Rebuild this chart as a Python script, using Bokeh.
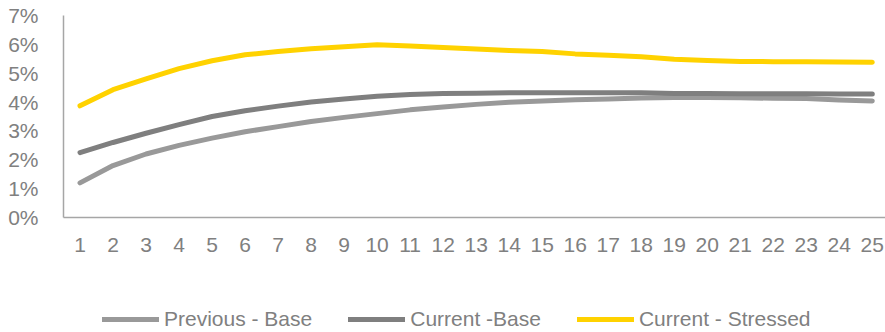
from bokeh.plotting import figure
from bokeh.layouts import column
from bokeh.models import Range1d, FixedTicker, PrintfTickFormatter, Legend, LegendItem
from bokeh.embed import file_html
from bokeh.resources import INLINE

years = list(range(1, 26))
previous_base = [1.2, 1.8, 2.2, 2.5, 2.75, 2.97, 3.15, 3.33, 3.47, 3.6, 3.73, 3.83, 3.92, 3.99,
                 4.04, 4.08, 4.11, 4.14, 4.16, 4.16, 4.15, 4.13, 4.12, 4.07, 4.04]
current_base = [2.25, 2.6, 2.92, 3.22, 3.5, 3.7, 3.86, 4.0, 4.11, 4.2, 4.26, 4.3, 4.31, 4.32,
                4.32, 4.32, 4.32, 4.32, 4.3, 4.3, 4.29, 4.29, 4.29, 4.28, 4.28]
current_stressed = [3.87, 4.43, 4.8, 5.16, 5.43, 5.64, 5.75, 5.85, 5.92, 5.99, 5.94, 5.89, 5.84,
                    5.79, 5.75, 5.67, 5.62, 5.57, 5.48, 5.44, 5.41, 5.40, 5.40, 5.39, 5.38]
series_names = ["Previous - Base", "Current -Base", "Current - Stressed"]
y_ticks = [0, 1, 2, 3, 4, 5, 6, 7]

FONT = "Liberation Sans"
FS = "21px"
TXT = "#808080"
colors = ["#999999", "#7F7F7F", "#FFD200"]
series = [previous_base, current_base, current_stressed]

p = figure(width=885, height=270, output_backend="svg", toolbar_location=None,
           x_range=Range1d(0.5, 25.4), y_range=Range1d(0, 7),
           min_border_left=63, min_border_right=0, min_border_top=15, min_border_bottom=53)
p.outline_line_color = None
p.grid.visible = False
p.border_fill_color = "#ffffff"
p.background_fill_color = "#ffffff"

for data, c in zip(series, colors):
    p.line(years, data, line_color=c, line_width=5, line_cap="round", line_join="round")

for ax in (p.xaxis[0], p.yaxis[0]):
    ax.axis_line_color = "#A6A6A6"
    ax.axis_line_width = 1.5
    ax.major_tick_line_color = None
    ax.minor_tick_line_color = None
    ax.major_label_text_font = FONT
    ax.major_label_text_font_size = FS
    ax.major_label_text_color = TXT

p.xaxis.ticker = FixedTicker(ticks=years)
p.xaxis.major_label_standoff = 14
p.yaxis.ticker = FixedTicker(ticks=y_ticks)
p.yaxis.formatter = PrintfTickFormatter(format="%d%%")
p.yaxis.major_label_standoff = 19

# legend strip below the chart (lines drawn off-view, only their legend glyphs show)
lg = figure(width=885, height=62, output_backend="svg", toolbar_location=None,
            x_range=Range1d(0, 1), y_range=Range1d(100, 101),
            x_axis_location=None, y_axis_location=None,
            min_border_left=0, min_border_right=0, min_border_top=0, min_border_bottom=0)
lg.outline_line_color = None
lg.grid.visible = False
lg.background_fill_color = "#ffffff"
lg.border_fill_color = "#ffffff"
rs = [lg.line(years, data, line_color=c, line_width=5, line_cap="round") for data, c in zip(series, colors)]
legend = Legend(items=[LegendItem(label=n, renderers=[r]) for n, r in zip(series_names, rs)],
                location=(39, 1), orientation="horizontal",
                glyph_width=57, glyph_height=20, label_height=20, label_standoff=5, spacing=36,
                padding=0, margin=0, border_line_alpha=0, background_fill_alpha=0,
                label_text_font=FONT, label_text_font_size=FS, label_text_color=TXT)
lg.add_layout(legend, "center")

open("out.html", "w").write(file_html(column(p, lg, spacing=0), INLINE))
